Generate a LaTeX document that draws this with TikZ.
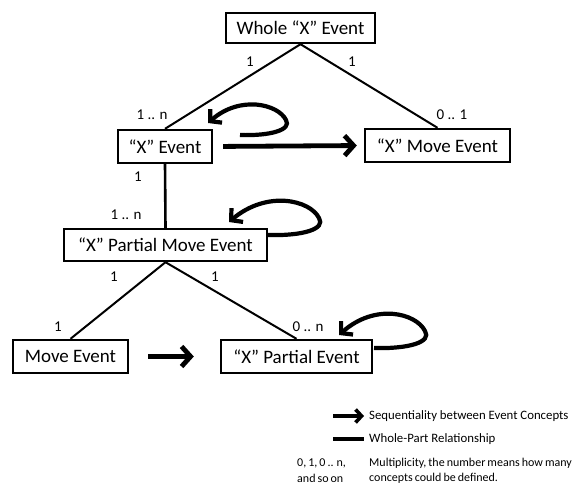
\documentclass[tikz,border=0pt]{standalone}
\usepackage{fontspec}
\setmainfont{Carlito}
\usetikzlibrary{arrows.meta}
\newcommand{\tightlegend}{\fontsize{12}{15}\selectfont\spaceskip=0.17em\relax}
\begin{document}
\begin{tikzpicture}[x=1pt,y=-1pt,
  box/.style={draw,line width=2.4pt,inner sep=0pt,font=\fontsize{19}{22}\selectfont},
  conn/.style={line width=2pt},
  mult/.style={font=\fontsize{15}{18}\selectfont,inner sep=0pt},
  legtext/.style={font=\fontsize{12.8}{16}\selectfont,inner sep=0pt,anchor=west},
  legsmall/.style={font=\tightlegend,inner sep=0pt,anchor=west},
  seq/.style={line width=4.8pt,-{Straight Barb[length=9pt,width=20pt]}},
  loopy/.style={line width=4.2pt,-{Straight Barb[length=8pt,width=18pt]}}]
\useasboundingbox (0,0) rectangle (588,486);
% boxes
\node[box,minimum width=149pt,minimum height=30pt] (whole) at (300.5,28) {Whole “X” Event};
\node[box,minimum width=94pt,minimum height=33pt] (xev) at (165,146.5) {“X” Event};
\node[box,minimum width=145pt,minimum height=33pt] (xmove) at (437.5,145.5) {“X” Move Event};
\node[box,minimum width=203pt,minimum height=32pt] (pme) at (165.5,245) {“X” Partial Move Event};
\node[box,minimum width=115pt,minimum height=33pt] (mev) at (70.5,356.5) {Move Event};
\node[box,minimum width=151pt,minimum height=33pt] (pev) at (296.5,356.5) {“X” Partial Event};
% whole-part connectors
\draw[conn] (whole.south) -- (xev.north);
\draw[conn] (whole.south) -- (xmove.north);
\draw[conn,line width=2.6pt] (xev.south) -- (pme.north);
\draw[conn] (pme.south) -- (mev.north);
\draw[conn] (pme.south) -- (pev.north);
% multiplicities
\node[mult] (m1) at (250,62) {1};
\node[mult] (m2) at (352,62) {1};
\node[mult] (m3) at (152,115) {1 .. n};
\node[mult] (m4) at (452,115) {0 .. 1};
\node[mult] (m5) at (138,177) {1};
\node[mult] (m6) at (126,215) {1 .. n};
\node[mult] (m7) at (114,277) {1};
\node[mult] (m8) at (215,277) {1};
\node[mult] (m9) at (58,327) {1};
\node[mult] (m10) at (308,327) {0 .. n};
% sequential arrows
\draw[seq,shorten <=10pt,shorten >=7pt] (xev.east) -- (xmove.west);
\draw[seq,shorten <=19pt,shorten >=26pt] (mev.east) -- (pev.west);
% self loops
\coordinate (s1) at (240,135);
\coordinate (t1) at (208,123);
\draw[loopy] (s1) .. controls +(30,1) and +(6,10) .. ++(46,-15) .. controls +(-8,-16) and +(32,-28) .. (t1);
\coordinate (s2) at (268,235);
\coordinate (t2) at (229,222);
\draw[loopy] (s2) .. controls +(35,1) and +(7,11) .. ++(51,-17) .. controls +(-9,-18) and +(38,-32) .. (t2);
\coordinate (s3) at (374,348);
\coordinate (t3) at (339,335);
\draw[loopy] (s3) .. controls +(35,1) and +(7,11) .. ++(51,-17) .. controls +(-9,-18) and +(36,-32) .. (t3);
% legend
\coordinate (la1) at (333,416);
\coordinate (la2) at (364,416);
\draw[line width=3.6pt,-{Straight Barb[length=6pt,width=13pt]}] (la1) -- (la2);
\node[legtext] (lt1) at (369,416) {Sequentiality between Event Concepts};
\coordinate (lb1) at (333,439);
\coordinate (lb2) at (364,439);
\draw[line width=4.5pt] (lb1) -- (lb2);
\node[legtext] (lt2) at (369,439) {Whole-Part Relationship};
\node[legsmall] (lt3) at (297,463) {0, 1, 0 .. n,};
\node[legsmall] (lt4) at (297,478) {and so on};
\node[legsmall] (lt5) at (369,463) {Multiplicity, the number means how many};
\node[legsmall] (lt6) at (369,478) {concepts could be defined.};
\end{tikzpicture}
\end{document}
